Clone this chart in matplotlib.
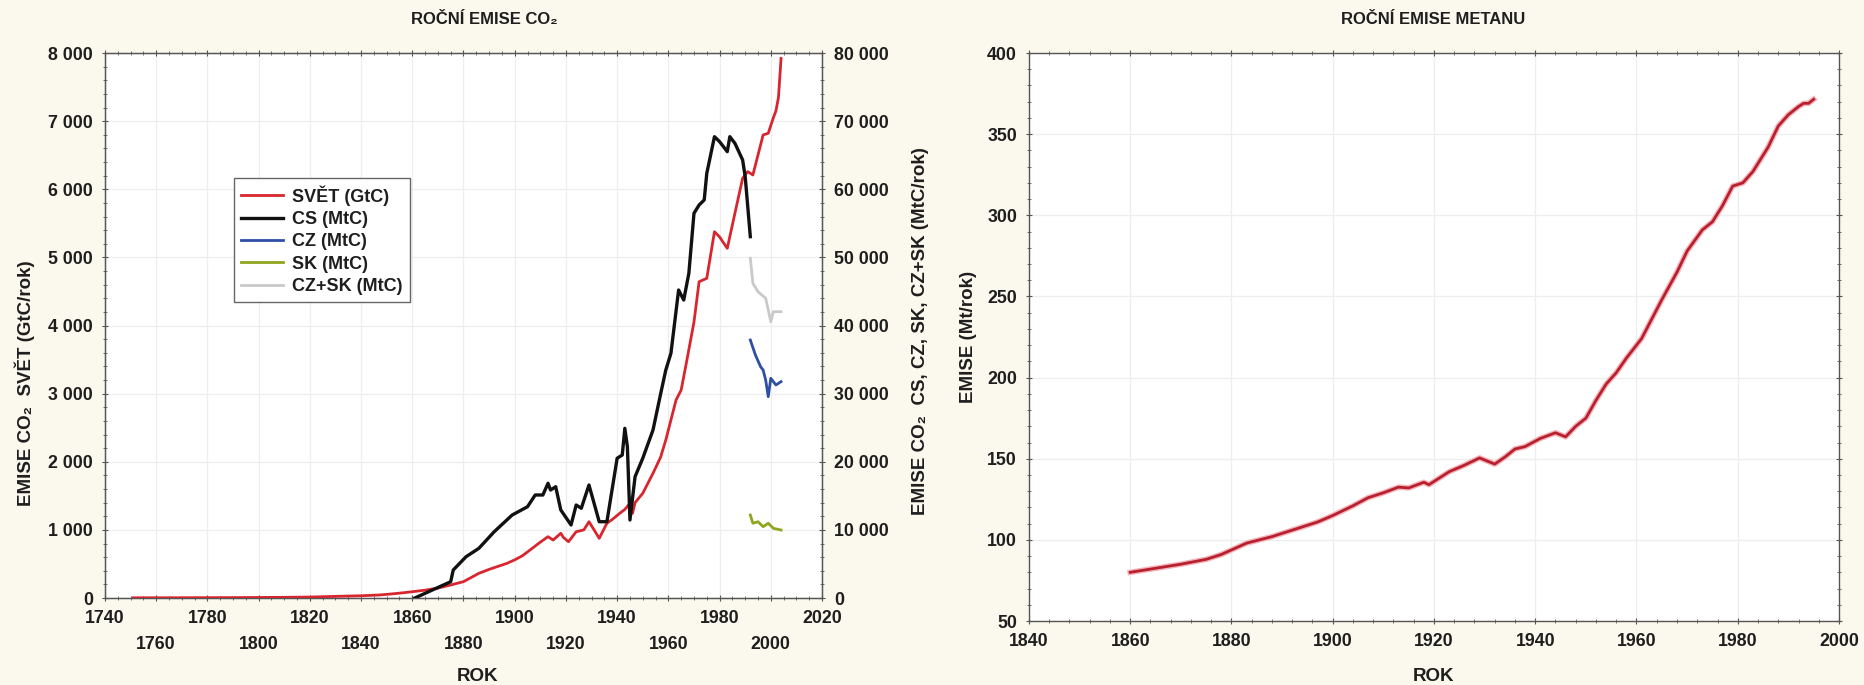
import matplotlib
matplotlib.use('Agg')
import matplotlib.pyplot as plt
from matplotlib.ticker import MultipleLocator, FuncFormatter

plt.rcParams['font.family'] = ['Liberation Sans', 'DejaVu Sans']
plt.rcParams['font.weight'] = 'bold'
plt.rcParams['axes.labelweight'] = 'bold'

# --- data ---
# world CO2 (left axis)
svet_rok = [1751, 1770, 1790, 1800, 1810, 1820, 1830, 1840, 1847, 1852, 1856, 1860,
            1865, 1870, 1875, 1880, 1886, 1890, 1897, 1900, 1903, 1906, 1910, 1913,
            1915, 1918, 1919, 1921, 1924, 1927, 1929, 1931, 1933, 1936, 1938, 1941,
            1943, 1945, 1946, 1947, 1950, 1954, 1957, 1959, 1963, 1965, 1967, 1970,
            1972, 1975, 1978, 1980, 1983, 1986, 1989, 1991, 1993, 1997, 1999, 2001,
            2002, 2003, 2004]
svet = [3, 4, 6, 8, 10, 14, 24, 33, 44, 60, 75, 92,
        115, 145, 191, 240, 362, 420, 509, 560, 620, 705, 820, 900,
        851, 950, 890, 826, 973, 1000, 1120, 1000, 876, 1097, 1150, 1243,
        1300, 1390, 1243, 1400, 1537, 1830, 2070, 2320, 2906, 3053, 3445, 4050,
        4643, 4693, 5377, 5300, 5133, 5650, 6161, 6259, 6210, 6797, 6822, 7050,
        7150, 7350, 7920]

# Czechoslovakia and successors (right axis, MtC)
cs_rok = [1861, 1868, 1875, 1876, 1881, 1886, 1892, 1899, 1905, 1908, 1911, 1913,
          1914, 1916, 1918, 1922, 1924, 1926, 1929, 1933, 1936, 1940, 1942, 1943,
          1944, 1945, 1947, 1950, 1954, 1957, 1959, 1961, 1964, 1966, 1968, 1970,
          1972, 1974, 1975, 1978, 1980, 1983, 1984, 1986, 1989, 1990, 1992]
cs = [0, 1200, 2390, 4110, 6060, 7290, 9730, 12180, 13400, 15120, 15120, 16840,
      15850, 16340, 12920, 10720, 13650, 13170, 16590, 11200, 11200, 20510, 20990, 24910,
      22210, 11450, 17810, 20510, 24660, 30000, 33470, 35920, 45210, 43740, 47660, 56470,
      57690, 58430, 62340, 67720, 66990, 65520, 67720, 66740, 64300, 61850, 53040]

cz_rok = [1992, 1994, 1996, 1997, 1998, 1999, 2000, 2002, 2004]
cz = [37870, 35670, 33960, 33470, 32000, 29550, 32250, 31270, 31760]

sk_rok = [1992, 1993, 1995, 1997, 1999, 2001, 2004]
sk = [12180, 10970, 11200, 10470, 10970, 10230, 9980]

czsk_rok = [1992, 1993, 1995, 1998, 1999, 2000, 2001, 2004]
czsk = [49870, 46200, 44960, 44000, 42280, 40560, 42030, 42030]

co2_ticks = list(range(1740, 2021, 20))
co2_ticklabels = [str(r) if i % 2 == 0 else '\n' + str(r) for i, r in enumerate(co2_ticks)]

# methane
metan_rok = [1860, 1865, 1870, 1875, 1878, 1883, 1888, 1892, 1897, 1900, 1904, 1907,
             1910, 1913, 1915, 1918, 1919, 1921, 1923, 1926, 1929, 1932, 1934, 1936,
             1938, 1941, 1944, 1946, 1948, 1950, 1952, 1954, 1956, 1958, 1961, 1965,
             1968, 1970, 1973, 1975, 1977, 1979, 1981, 1983, 1986, 1988, 1990, 1992,
             1993, 1994, 1995]
metan = [80, 82.5, 85, 88, 91, 98, 102, 106, 111, 115, 121, 126,
         129, 132.5, 132, 135.5, 134, 138, 142, 146, 150.5, 146.7, 151, 156,
         157.5, 162.5, 166, 163.5, 170, 175, 186, 196, 203, 212, 224, 248,
         265, 278, 291, 296, 306, 318, 320, 327, 342, 355, 362, 367,
         369, 369, 371.5]

bg = '#fbf8ed'
grid_c = '#eeeeee'
txt = '#1e1e1e'
tick_fs = 12.8
lab_fs = 13.5


def space_fmt(v, pos):
    return '{:,.0f}'.format(v).replace(',', ' ')


def style_ax(ax):
    ax.set_facecolor('white')
    for s in ax.spines.values():
        s.set_color('#555555')
        s.set_linewidth(1.0)
    ax.grid(True, which='major', color=grid_c, linewidth=0.9)
    ax.set_axisbelow(True)
    ax.tick_params(which='both', direction='inout', colors='#555555',
                   labelcolor=txt, labelsize=tick_fs)
    ax.tick_params(which='major', length=5)
    ax.tick_params(which='minor', length=3)


fig = plt.figure(figsize=(18.64, 6.85), dpi=100, facecolor=bg)

# ---------------- left: CO2 ----------------
ax1 = fig.add_axes([0.0563, 0.1270, 0.3847, 0.7956])
style_ax(ax1)
ax1.set_xlim(1740, 2020)
ax1.set_ylim(0, 8000)
ax1.set_xticks(co2_ticks, co2_ticklabels)
ax1.xaxis.set_minor_locator(MultipleLocator(5))
ax1.yaxis.set_major_locator(MultipleLocator(1000))
ax1.yaxis.set_minor_locator(MultipleLocator(200))
ax1.yaxis.set_major_formatter(FuncFormatter(space_fmt))
ax1.tick_params(axis='x', which='both', top=True, pad=6)
ax1.tick_params(axis='y', pad=6)
for t in ax1.get_xticklabels():
    t.set_linespacing(1.7)

l_svet, = ax1.plot(svet_rok, svet, color='#d8262f', lw=2.0, zorder=4, label='SVĚT (GtC)')

ax2 = ax1.twinx()
ax2.set_ylim(0, 80000)
ax2.yaxis.set_major_locator(MultipleLocator(10000))
ax2.yaxis.set_minor_locator(MultipleLocator(2000))
ax2.yaxis.set_major_formatter(FuncFormatter(space_fmt))
for s in ax2.spines.values():
    s.set_color('#555555')
ax2.tick_params(which='both', direction='inout', colors='#555555',
                labelcolor=txt, labelsize=tick_fs, pad=6)
ax2.tick_params(which='major', length=5)
ax2.tick_params(which='minor', length=3)

l_cs, = ax2.plot(cs_rok, cs, color='#111111', lw=2.4, zorder=3, label='CS (MtC)')
l_cz, = ax2.plot(cz_rok, cz, color='#2e4fa8', lw=2.0, label='CZ (MtC)')
l_sk, = ax2.plot(sk_rok, sk, color='#8fa61e', lw=2.0, label='SK (MtC)')
l_czsk, = ax2.plot(czsk_rok, czsk, color='#c9c9c9', lw=2.0, label='CZ+SK (MtC)')

leg = ax2.legend(handles=[l_svet, l_cs, l_cz, l_sk, l_czsk],
                 loc='upper left', bbox_to_anchor=(0.18, 0.771),
                 fontsize=13, frameon=True, fancybox=False, framealpha=1,
                 edgecolor='#666666', labelspacing=0.3, borderpad=0.4,
                 handlelength=2.3, handletextpad=0.5, borderaxespad=0)
for t in leg.get_texts():
    t.set_color(txt)

ax1.set_xlabel('ROK', fontsize=lab_fs, color=txt)
ax1.xaxis.set_label_coords(0.52, -0.128)
ax1.set_ylabel('EMISE CO₂  SVĚT (GtC/rok)', fontsize=lab_fs, color=txt)
ax1.yaxis.set_label_coords(-0.097, 0.394)
ax2.set_ylabel('EMISE CO₂  CS, CZ, SK, CZ+SK (MtC/rok)', fontsize=lab_fs, color=txt)
ax2.yaxis.set_label_coords(1.125, 0.49)

fig.text(0.26, 0.971, 'ROČNÍ EMISE CO₂', ha='center', va='center',
         fontsize=12, fontweight='bold', color=txt)

# ---------------- right: methane ----------------
ax3 = fig.add_axes([0.5520, 0.0934, 0.4346, 0.8292])
style_ax(ax3)
ax3.set_xlim(1840, 2000)
ax3.set_ylim(50, 400)
ax3.xaxis.set_major_locator(MultipleLocator(20))
ax3.xaxis.set_minor_locator(MultipleLocator(4))
ax3.yaxis.set_major_locator(MultipleLocator(50))
ax3.yaxis.set_minor_locator(MultipleLocator(10))
ax3.tick_params(which='both', top=True, right=True)
ax3.tick_params(axis='x', pad=6)
ax3.tick_params(axis='y', pad=6)

ax3.plot(metan_rok, metan, color='#f4b3b9', lw=4.0, zorder=3)
ax3.plot(metan_rok, metan, color='#b8202f', lw=2.0, zorder=4)

ax3.set_xlabel('ROK', fontsize=lab_fs, color=txt)
ax3.xaxis.set_label_coords(0.5, -0.083)
ax3.set_ylabel('EMISE (Mt/rok)', fontsize=lab_fs, color=txt)
ax3.yaxis.set_label_coords(-0.064, 0.5)

fig.text(0.769, 0.971, 'ROČNÍ EMISE METANU', ha='center', va='center',
         fontsize=12, fontweight='bold', color=txt)

fig.savefig('out.png', dpi=100, facecolor=bg)
